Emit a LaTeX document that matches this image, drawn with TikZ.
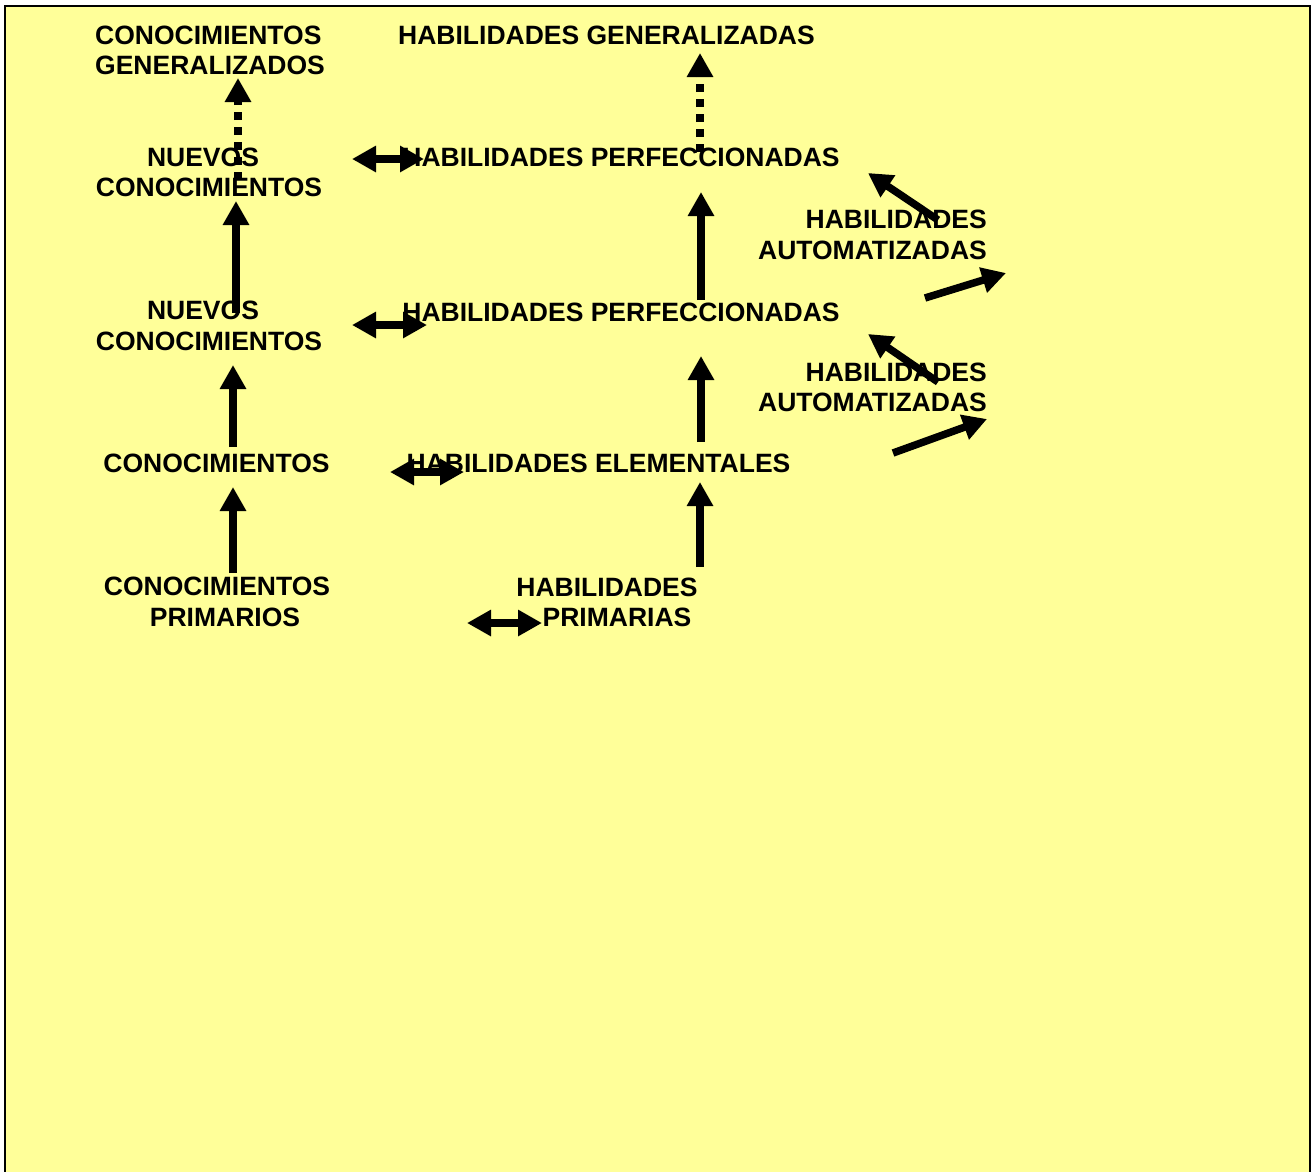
\documentclass[tikz,border=0pt]{standalone}
\usepackage{fontspec}
\setmainfont{Liberation Sans}
\usetikzlibrary{arrows.meta}
\definecolor{paper}{HTML}{FFFF99}
\begin{document}
\begin{tikzpicture}[x=1pt,y=-1pt,
  lbl/.style={inner sep=0pt, font=\fontsize{26.5}{30.5}\selectfont\bfseries},
  flow/.style={line width=7.5pt, -{Triangle[length=24pt,width=25pt]}},
  both/.style={line width=7.5pt, {Triangle[length=24pt,width=25pt]}-{Triangle[length=24pt,width=25pt]}},
  dots/.style={flow, dash pattern=on 8pt off 7pt}]
\useasboundingbox (0,0) rectangle (1313,1171);
\fill[white] (0,0) rectangle (1313,1171);
\draw[line width=2pt, fill=paper] (5,1190) -- (5,6) -- (1310,6) -- (1310,1190);

% knowledge column
\node[lbl, anchor=west, align=left] (cgen) at (95,50.5) {CONOCIMIENTOS\\GENERALIZADOS};
\node[lbl, align=center] (nc2) at (209,172.5) {NUEVOS\hspace*{12pt}\\CONOCIMIENTOS};
\node[lbl, align=center] (nc1) at (209,326) {NUEVOS\hspace*{12pt}\\CONOCIMIENTOS};
\node[lbl] (con) at (216.5,463) {CONOCIMIENTOS};
\node[lbl, align=center] (cprim) at (217,602) {CONOCIMIENTOS\\\hspace*{16pt}PRIMARIOS};

% skills column
\node[lbl] (hgen) at (606.5,35) {HABILIDADES GENERALIZADAS};
\node[lbl] (hper2) at (621,157) {HABILIDADES PERFECCIONADAS};
\node[lbl] (hper1) at (621,312) {HABILIDADES PERFECCIONADAS};
\node[lbl] (helem) at (598.5,463) {HABILIDADES ELEMENTALES};
\node[lbl, align=center] (hprim) at (607,602.5) {HABILIDADES\\\hspace*{20pt}PRIMARIAS};

% automated skills
\node[lbl, anchor=east, align=right] (haut2) at (987,235) {HABILIDADES\\AUTOMATIZADAS};
\node[lbl, anchor=east, align=right] (haut1) at (987,387.5) {HABILIDADES\\AUTOMATIZADAS};

% arrow end points
\coordinate (k0a) at (238,180);  \coordinate (k0b) at (238,78);
\coordinate (k1a) at (236,313);  \coordinate (k1b) at (236,201);
\coordinate (k2a) at (233,447);  \coordinate (k2b) at (233,365);
\coordinate (k3a) at (233,573);  \coordinate (k3b) at (233,487);
\coordinate (s0a) at (700,152);  \coordinate (s0b) at (700,53);
\coordinate (s1a) at (701,300);  \coordinate (s1b) at (701,192);
\coordinate (s2a) at (701,442);  \coordinate (s2b) at (701,356);
\coordinate (s3a) at (700,567);  \coordinate (s3b) at (700,482);
\coordinate (l2a) at (352,159);  \coordinate (l2b) at (424,159);
\coordinate (l1a) at (352,325);  \coordinate (l1b) at (427,325);
\coordinate (l0a) at (390,472);  \coordinate (l0b) at (464,472);
\coordinate (lpa) at (467,623);  \coordinate (lpb) at (542,623);
\coordinate (a2a) at (938,220);  \coordinate (a2b) at (868,173);
\coordinate (a2c) at (925,298);  \coordinate (a2d) at (1006,273);
\coordinate (a1a) at (938,382);  \coordinate (a1b) at (868,334);
\coordinate (a1c) at (893,453);  \coordinate (a1d) at (987,419);

% vertical progressions
\draw[dots] (k0a) -- (k0b);
\draw[flow] (k1a) -- (k1b);
\draw[flow] (k2a) -- (k2b);
\draw[flow] (k3a) -- (k3b);
\draw[dots] (s0a) -- (s0b);
\draw[flow] (s1a) -- (s1b);
\draw[flow] (s2a) -- (s2b);
\draw[flow] (s3a) -- (s3b);

% links between knowledge and skills
\draw[both] (l2a) -- (l2b);
\draw[both] (l1a) -- (l1b);
\draw[both] (l0a) -- (l0b);
\draw[both] (lpa) -- (lpb);

% automation arrows
\draw[flow] (a2a) -- (a2b);
\draw[flow] (a2c) -- (a2d);
\draw[flow] (a1a) -- (a1b);
\draw[flow] (a1c) -- (a1d);
\end{tikzpicture}
\end{document}
